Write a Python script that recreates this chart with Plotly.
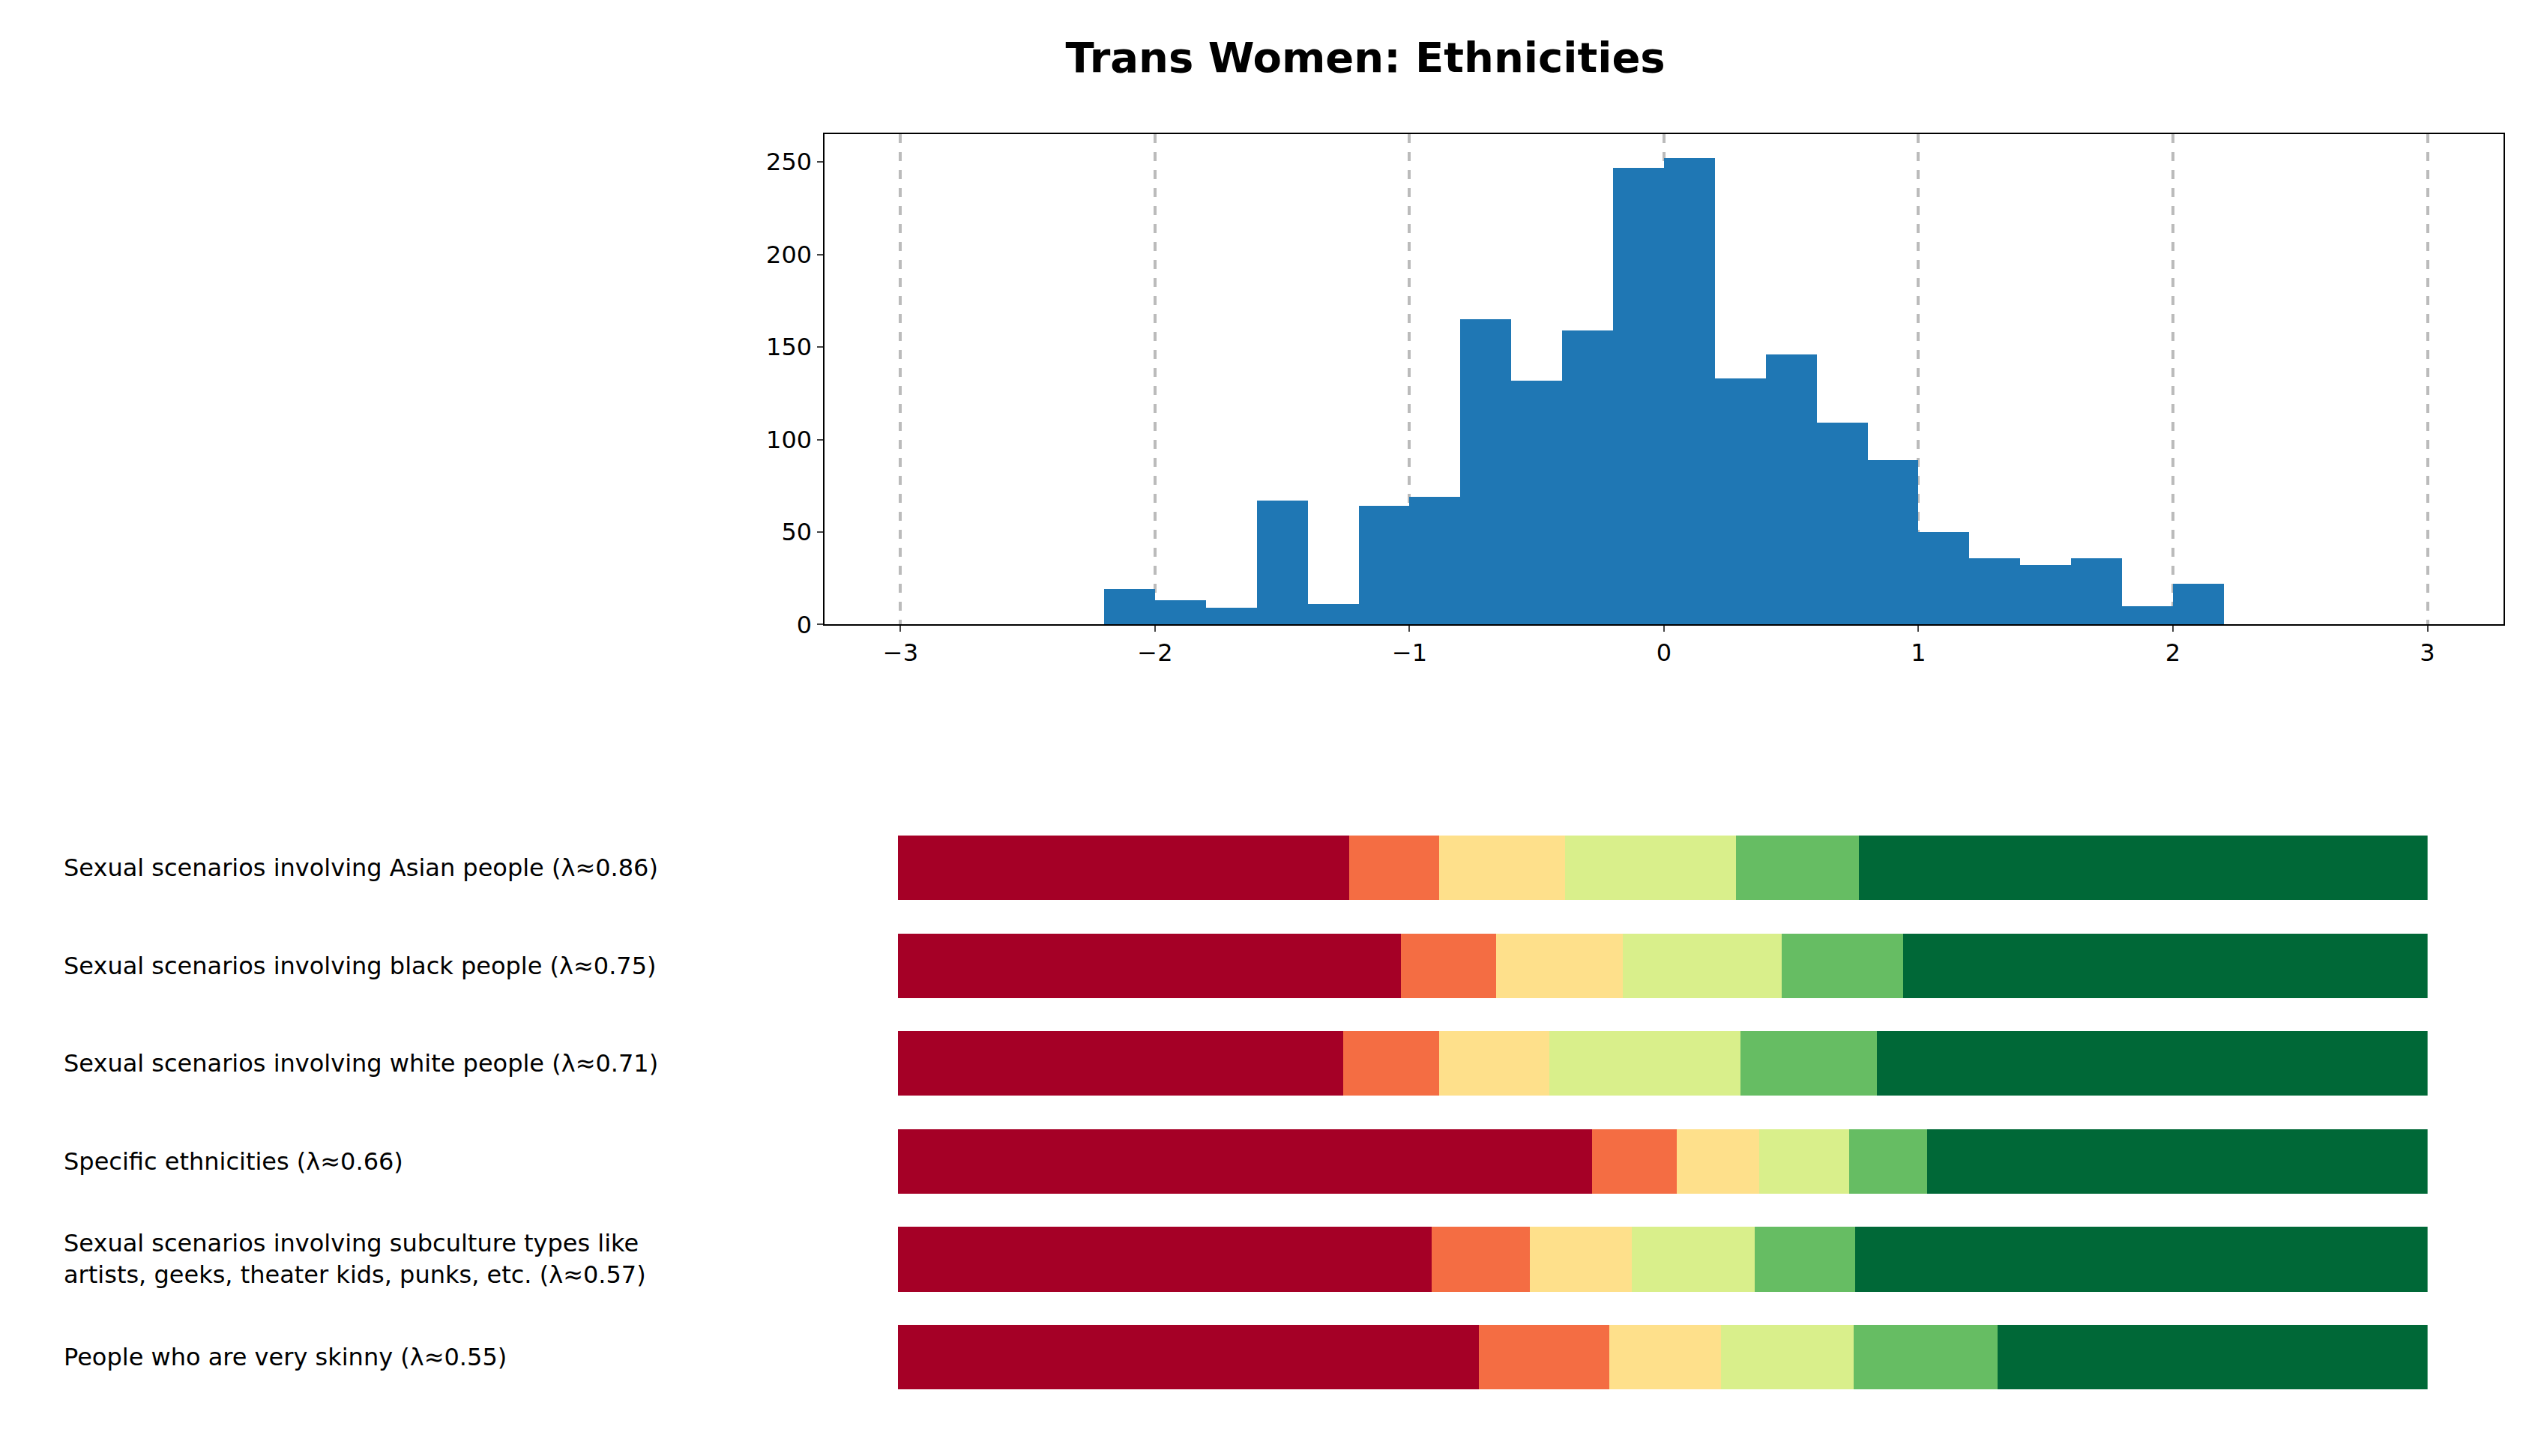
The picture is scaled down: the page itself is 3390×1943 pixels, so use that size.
import plotly.graph_objects as go

bin_left = [-2.2,-2.0,-1.8,-1.6,-1.4,-1.2,-1.0,-0.8,-0.6,-0.4,-0.2,0.0,0.2,0.4,0.6,0.8,1.0,1.2,1.4,1.6,1.8,2.0]
counts = [19,13,9,67,11,64,69,165,132,159,247,252,133,146,109,89,50,36,32,36,10,22]
bin_width = 0.2

labels = [
    "Sexual scenarios involving Asian people (λ≈0.86)",
    "Sexual scenarios involving black people (λ≈0.75)",
    "Sexual scenarios involving white people (λ≈0.71)",
    "Specific ethnicities (λ≈0.66)",
    "Sexual scenarios involving subculture types like<br>artists, geeks, theater kids, punks, etc. (λ≈0.57)",
    "People who are very skinny (λ≈0.55)",
]
shares = [
    [29.5, 5.9, 8.2, 11.2, 8.0, 37.2],
    [32.9, 6.2, 8.3, 10.4, 7.9, 34.3],
    [29.1, 6.3, 7.2, 12.5, 8.9, 36.0],
    [45.4, 5.5, 5.4, 5.9, 5.1, 32.7],
    [34.9, 6.4, 6.7, 8.0, 6.6, 37.4],
    [38.0, 8.5, 7.3, 8.7, 9.4, 28.1],
]
colors = ["#a50026", "#f46d43", "#fee08b", "#d9ef8b", "#66bd63", "#006837"]

fig = go.Figure()
fig.add_trace(go.Bar(x=[b + bin_width/2 for b in bin_left], y=counts, width=bin_width,
                     marker=dict(color="#1f77b4", line=dict(width=0)), xaxis="x", yaxis="y",
                     showlegend=False))
ypos = list(range(len(labels)))
for k, c in enumerate(colors):
    fig.add_trace(go.Bar(y=ypos, x=[s[k] for s in shares], orientation="h",
                         marker=dict(color=c, line=dict(width=0)), xaxis="x2", yaxis="y2",
                         showlegend=False))
for i, lab in enumerate(labels):
    fig.add_annotation(x=0.022, xref="paper", y=i, yref="y2", text=lab, showarrow=False,
                       xanchor="left", align="left", font=dict(size=32, color="black"))

tickfont = dict(size=32, color="black")
fig.update_layout(
    width=3390, height=1943, plot_bgcolor="white", paper_bgcolor="white",
    barmode="stack", bargap=0.34,
    font=dict(family="DejaVu Sans", color="black"),
    margin=dict(l=0, r=0, t=0, b=0),
    title=dict(text="<b>Trans Women: Ethnicities</b>", x=0.535, xanchor="center", y=0.975, yanchor="top",
               font=dict(size=56, color="black")),
    xaxis=dict(domain=[0.322, 0.983], range=[-3.3, 3.3], tickvals=[-3,-2,-1,0,1,2,3],
               ticktext=["−3","−2","−1","0","1","2","3"],
               showgrid=True, gridcolor="#bbbbbb", gridwidth=4, griddash="dash",
               showline=True, linecolor="black", linewidth=2, mirror=True, ticks="outside",
               ticklen=8, tickwidth=2, tickfont=tickfont, zeroline=False),
    yaxis=dict(domain=[0.571, 0.911], range=[0, 265], tickvals=[0,50,100,150,200,250],
               showgrid=False, showline=True, linecolor="black", linewidth=2, mirror=True,
               ticks="outside", ticklen=8, tickwidth=2, tickfont=tickfont, zeroline=False),
    xaxis2=dict(domain=[0.351, 0.953], range=[0, 100], visible=False, anchor="y2"),
    yaxis2=dict(domain=[0.029, 0.436], range=[len(labels)-0.5, -0.5], visible=False, anchor="x2"),
)
fig.write_html("out.html")
